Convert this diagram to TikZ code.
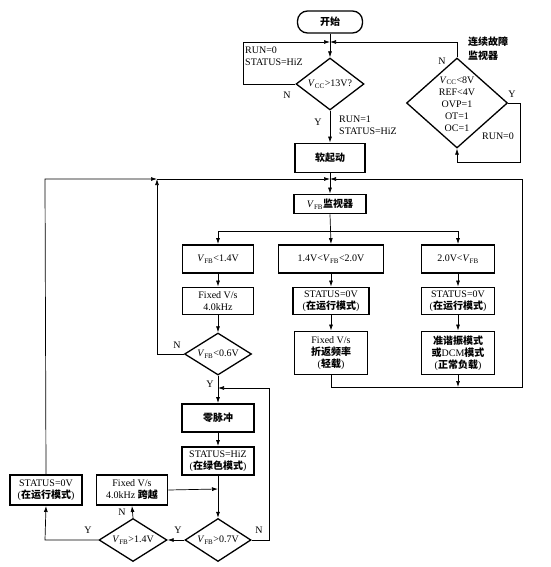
\documentclass[tikz,border=0pt]{standalone}
\usepackage{fontspec}
\setmainfont{Liberation Serif}
\newfontfamily\cjk{Noto Sans CJK SC}
\usetikzlibrary{shapes.geometric,arrows.meta}
\newcommand\zh[1]{{\cjk\bfseries #1}}
\newcommand\VFB{\textit{V}\textsubscript{FB}}
\newcommand\VCC{\textit{V}\textsubscript{CC}}
\tikzset{
  every node/.style={font=\fontsize{10}{12}\selectfont},
  box/.style={draw, line width=1.9pt, align=center, inner sep=1pt},
  dia/.style={draw, diamond, line width=1.3pt, inner sep=0pt},
  term/.style={draw, line width=1.3pt, rounded corners=10pt, inner sep=1pt},
  lab/.style={inner sep=0pt, align=left},
  ln/.style={line width=0.7pt},
  ar/.style={line width=0.7pt, -{Latex[length=6pt,width=4pt]}},
}
\begin{document}
\begin{tikzpicture}[x=1pt,y=-1pt]
\useasboundingbox (0,0) rectangle (550,567);
% nodes
\node[term, minimum width=65pt, minimum height=22pt] (start) at (330,22) {\zh{开始}};
\coordinate (J1) at (330,42);
\node[dia, minimum width=68pt, minimum height=52pt] (d1) at (330,84) {};
\node at (d1) {\VCC{}>13V?};
\node[box, minimum width=70pt, minimum height=29pt] (soft) at (330,158) {\zh{软起动}};
\node[dia, minimum width=101pt, minimum height=90pt] (fd) at (457,103) {};
\node[align=center, inner sep=0pt] (fdt) at (457,104) {\VCC{}<8V\\REF<4V\\OVP=1\\OT=1\\OC=1};
\coordinate (J2) at (330,179);
\node[box, minimum width=72pt, minimum height=19pt] (mon) at (330,204) {\VFB\zh{监视器}};
\node[box, minimum width=71pt, minimum height=28pt] (A) at (218,259) {\VFB<1.4V};
\node[box, minimum width=105pt, minimum height=28pt] (B) at (331,259) {1.4V<\VFB<2.0V};
\node[box, minimum width=73pt, minimum height=28pt] (C) at (458,259) {2.0V<\VFB};
\node[box, minimum width=71pt, minimum height=27pt] (A2) at (218,301) {Fixed V/s\\4.0kHz};
\node[box, minimum width=76pt, minimum height=27pt] (B2) at (331,301) {STATUS=0V\\(\zh{在运行模式})};
\node[box, minimum width=73pt, minimum height=27pt] (C2) at (458,301) {STATUS=0V\\(\zh{在运行模式})};
\node[dia, minimum width=67pt, minimum height=42pt] (D2) at (218,354) {};
\node at (D2) {\VFB<0.6V};
\node[box, minimum width=73pt, minimum height=43pt] (B3) at (331,353) {Fixed V/s\\\zh{折返频率}\\(\zh{轻载})};
\node[box, minimum width=73pt, minimum height=43pt] (C3) at (458,353) {\zh{准谐振模式}\\\zh{或}DCM\zh{模式}\\(\zh{正常负载})};
\node[box, minimum width=72pt, minimum height=28pt] (Z) at (218,418) {\zh{零脉冲}};
\node[box, minimum width=72pt, minimum height=28pt] (H) at (218,461) {STATUS=HiZ\\(\zh{在绿色模式})};
\node[dia, minimum width=66pt, minimum height=43pt] (D3) at (218,540) {};
\node at (D3) {\VFB>0.7V};
\node[dia, minimum width=68pt, minimum height=43pt] (D4) at (133,540) {};
\node at (D4) {\VFB>1.4V};
\node[box, minimum width=71pt, minimum height=30pt] (F) at (132,490) {Fixed V/s\\4.0kHz \zh{跨越}};
\node[box, minimum width=72pt, minimum height=30pt] (L) at (46,490) {STATUS=0V\\(\zh{在运行模式})};
\coordinate (JL) at (157,179);
% labels
\node[lab, anchor=north west] (t1) at (245,47) {RUN=0\\STATUS=HiZ};
\node[lab] (t2) at (287,95) {N};
\node[lab] (t3) at (318,122) {Y};
\node[lab, anchor=west] (t4) at (339,125) {RUN=1\\STATUS=HiZ};
\node[lab] (t5) at (442,61) {N};
\node[lab] (t6) at (512,94) {Y};
\node[lab] (t7) at (498,136) {RUN=0};
\node[lab, anchor=north west, font=\fontsize{10}{14}\selectfont] (t8) at (468,37) {\zh{连续故障}\\\zh{监视器}};
\node[lab] (t9) at (177,345) {N};
\node[lab] (t10) at (210,384) {Y};
\node[lab] (t11) at (259,530) {N};
\node[lab] (t12) at (178,530) {Y};
\node[lab] (t13) at (122,512) {N};
\node[lab] (t14) at (88,530) {Y};
% connectors
\draw[ln] (start.south) -- (J1);
\draw[ar] (J1) -- (d1.north);
\draw[ar] (d1.west) -- (243,84) -- (243,42) -- (J1);
\draw[ar] (fd.north) -- (457,42) -- (J1);
\draw[ar] (fd.east) -- (520,103) -- (520,162) -- (457,162) -- (fd.south);
\draw[ar] (d1.south) -- (soft.north);
\draw[ln] (soft.south) -- (J2);
\draw[ar] (J2) -- (mon.north);
\draw[ar] (mon.south) -- (B.north);
\draw[ln] (218,231) -- (458,231);
\draw[ar] (218,231) -- (A.north);
\draw[ar] (458,231) -- (C.north);
\draw[ar] (A) -- (A2);
\draw[ar] (B) -- (B2);
\draw[ar] (C) -- (C2);
\draw[ar] (A2) -- (D2.north);
\draw[ar] (B2) -- (B3);
\draw[ar] (C2) -- (C3);
\draw[ar] (D2.west) -- (157,354) -- (JL);
\draw[ar] (L.north) -- (45,179) -- (JL);
\draw[ar] (JL) -- (J2);
\draw[ar] (B3.south) -- (331,387) -- (522,387) -- (522,179) -- (J2);
\draw[ar] (C3.south) -- (458,387);
\draw[ar] (D2.south) -- (Z.north);
\draw[ar] (D3.east) -- (269,540) -- (269,388) -- (218,388);
\draw[ar] (Z) -- (H);
\draw[ar] (H.south) -- (D3.north);
\draw[ar] (F.east) -- (218,489);
\draw[ar] (D3.west) -- (D4.east);
\draw[ar] (D4.north) -- (F.south);
\draw[ar] (D4.west) -- (45,540) -- (L.south);
\end{tikzpicture}
\end{document}
